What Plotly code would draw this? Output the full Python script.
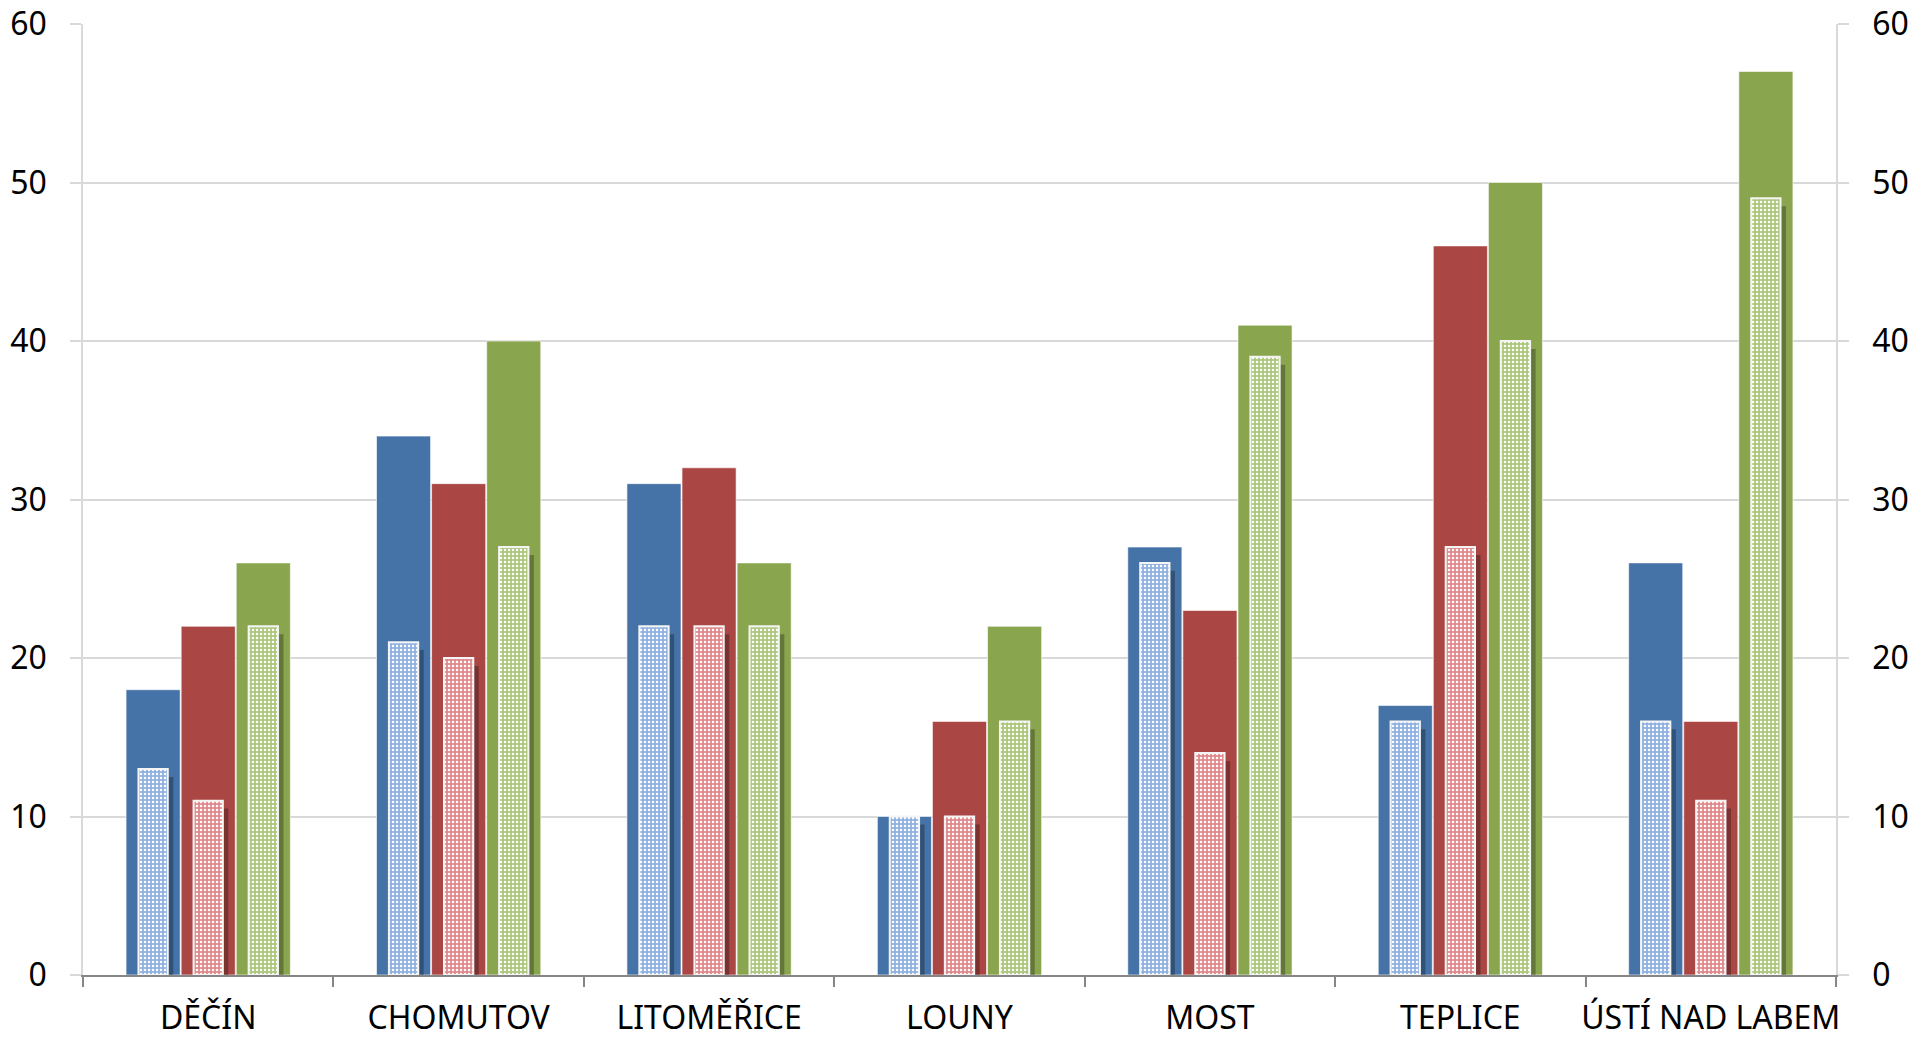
import plotly.graph_objects as go

categories = ["DĚČÍN", "CHOMUTOV", "LITOMĚŘICE", "LOUNY", "MOST", "TEPLICE", "ÚSTÍ NAD LABEM"]

solid_blue = [18, 34, 31, 10, 27, 17, 26]
solid_red = [22, 31, 32, 16, 23, 46, 16]
solid_green = [26, 40, 26, 22, 41, 50, 57]

pattern_blue = [13, 21, 22, 10, 26, 16, 16]
pattern_red = [11, 20, 22, 10, 14, 27, 11]
pattern_green = [22, 27, 22, 16, 39, 40, 49]

FONT = "Noto Sans"
solid_colors = ["#4572A7", "#AA4643", "#89A54E"]
pat_bg = ["#8fb1e0", "#e0898c", "#acc67c"]

SOLID_W = 0.216
PAT_W = 0.117
centers = [-0.22, 0.0, 0.22]

fig = go.Figure()

solids = [solid_blue, solid_red, solid_green]
pats = [pattern_blue, pattern_red, pattern_green]

for i, vals in enumerate(solids):
    fig.add_trace(go.Bar(
        x=categories, y=vals, width=SOLID_W, offset=centers[i] - SOLID_W / 2,
        marker=dict(color=solid_colors[i], line=dict(color="rgba(255,255,255,0.6)", width=1)),
        showlegend=False, hoverinfo="y",
    ))

# shadows of the patterned bars
for i, vals in enumerate(pats):
    fig.add_trace(go.Bar(
        x=categories, y=vals, base=-0.5, width=PAT_W, offset=centers[i] - PAT_W / 2 + 0.022,
        marker=dict(color="rgba(0,0,0,0.28)", line=dict(width=0)),
        yaxis="y2", showlegend=False, hoverinfo="skip",
    ))

for i, vals in enumerate(pats):
    fig.add_trace(go.Bar(
        x=categories, y=vals, width=PAT_W, offset=centers[i] - PAT_W / 2,
        marker=dict(
            color=pat_bg[i],
            line=dict(color="#f4f4f4", width=2),
            pattern=dict(shape=".", fgcolor="white", bgcolor=pat_bg[i], size=4, solidity=0.3, fillmode="replace"),
        ),
        yaxis="y2", showlegend=False, hoverinfo="y",
    ))

tickfont = dict(family=FONT, size=32, color="#000000")

fig.update_layout(
    width=1915, height=1039,
    margin=dict(l=83, r=79, t=24, b=64),
    paper_bgcolor="white", plot_bgcolor="white",
    barmode="overlay",
    xaxis=dict(
        type="category", tickson="boundaries", ticks="outside", ticklen=10,
        tickcolor="#868686", tickwidth=1.5, showline=True, linecolor="#868686", linewidth=1.5,
        tickfont=tickfont, showgrid=False, ticklabelstandoff=14, tickangle=0, automargin=False,
        ticklabeloverflow="allow",
    ),
    yaxis=dict(
        range=[0, 60], dtick=10, showgrid=True, gridcolor="#d9d9d9", gridwidth=1.5,
        showline=True, linecolor="#d9d9d9", linewidth=1.5, ticks="outside", ticklen=11,
        tickcolor="#d9d9d9", tickwidth=1.5, zeroline=False, tickfont=tickfont, ticklabelstandoff=17,
        automargin=False, ticklabeloverflow="allow",
    ),
    yaxis2=dict(
        range=[0, 60], dtick=10, overlaying="y", side="right", showgrid=False,
        showline=True, linecolor="#d9d9d9", linewidth=1.5, ticks="outside", ticklen=11,
        tickcolor="#d9d9d9", tickwidth=1.5, zeroline=False, tickfont=tickfont, ticklabelstandoff=17,
        automargin=False, ticklabeloverflow="allow",
    ),
)

fig.write_html(
    "out.html",
    config={"displayModeBar": False},
    post_script="document.body.style.margin='0';document.body.style.overflow='hidden';",
)
